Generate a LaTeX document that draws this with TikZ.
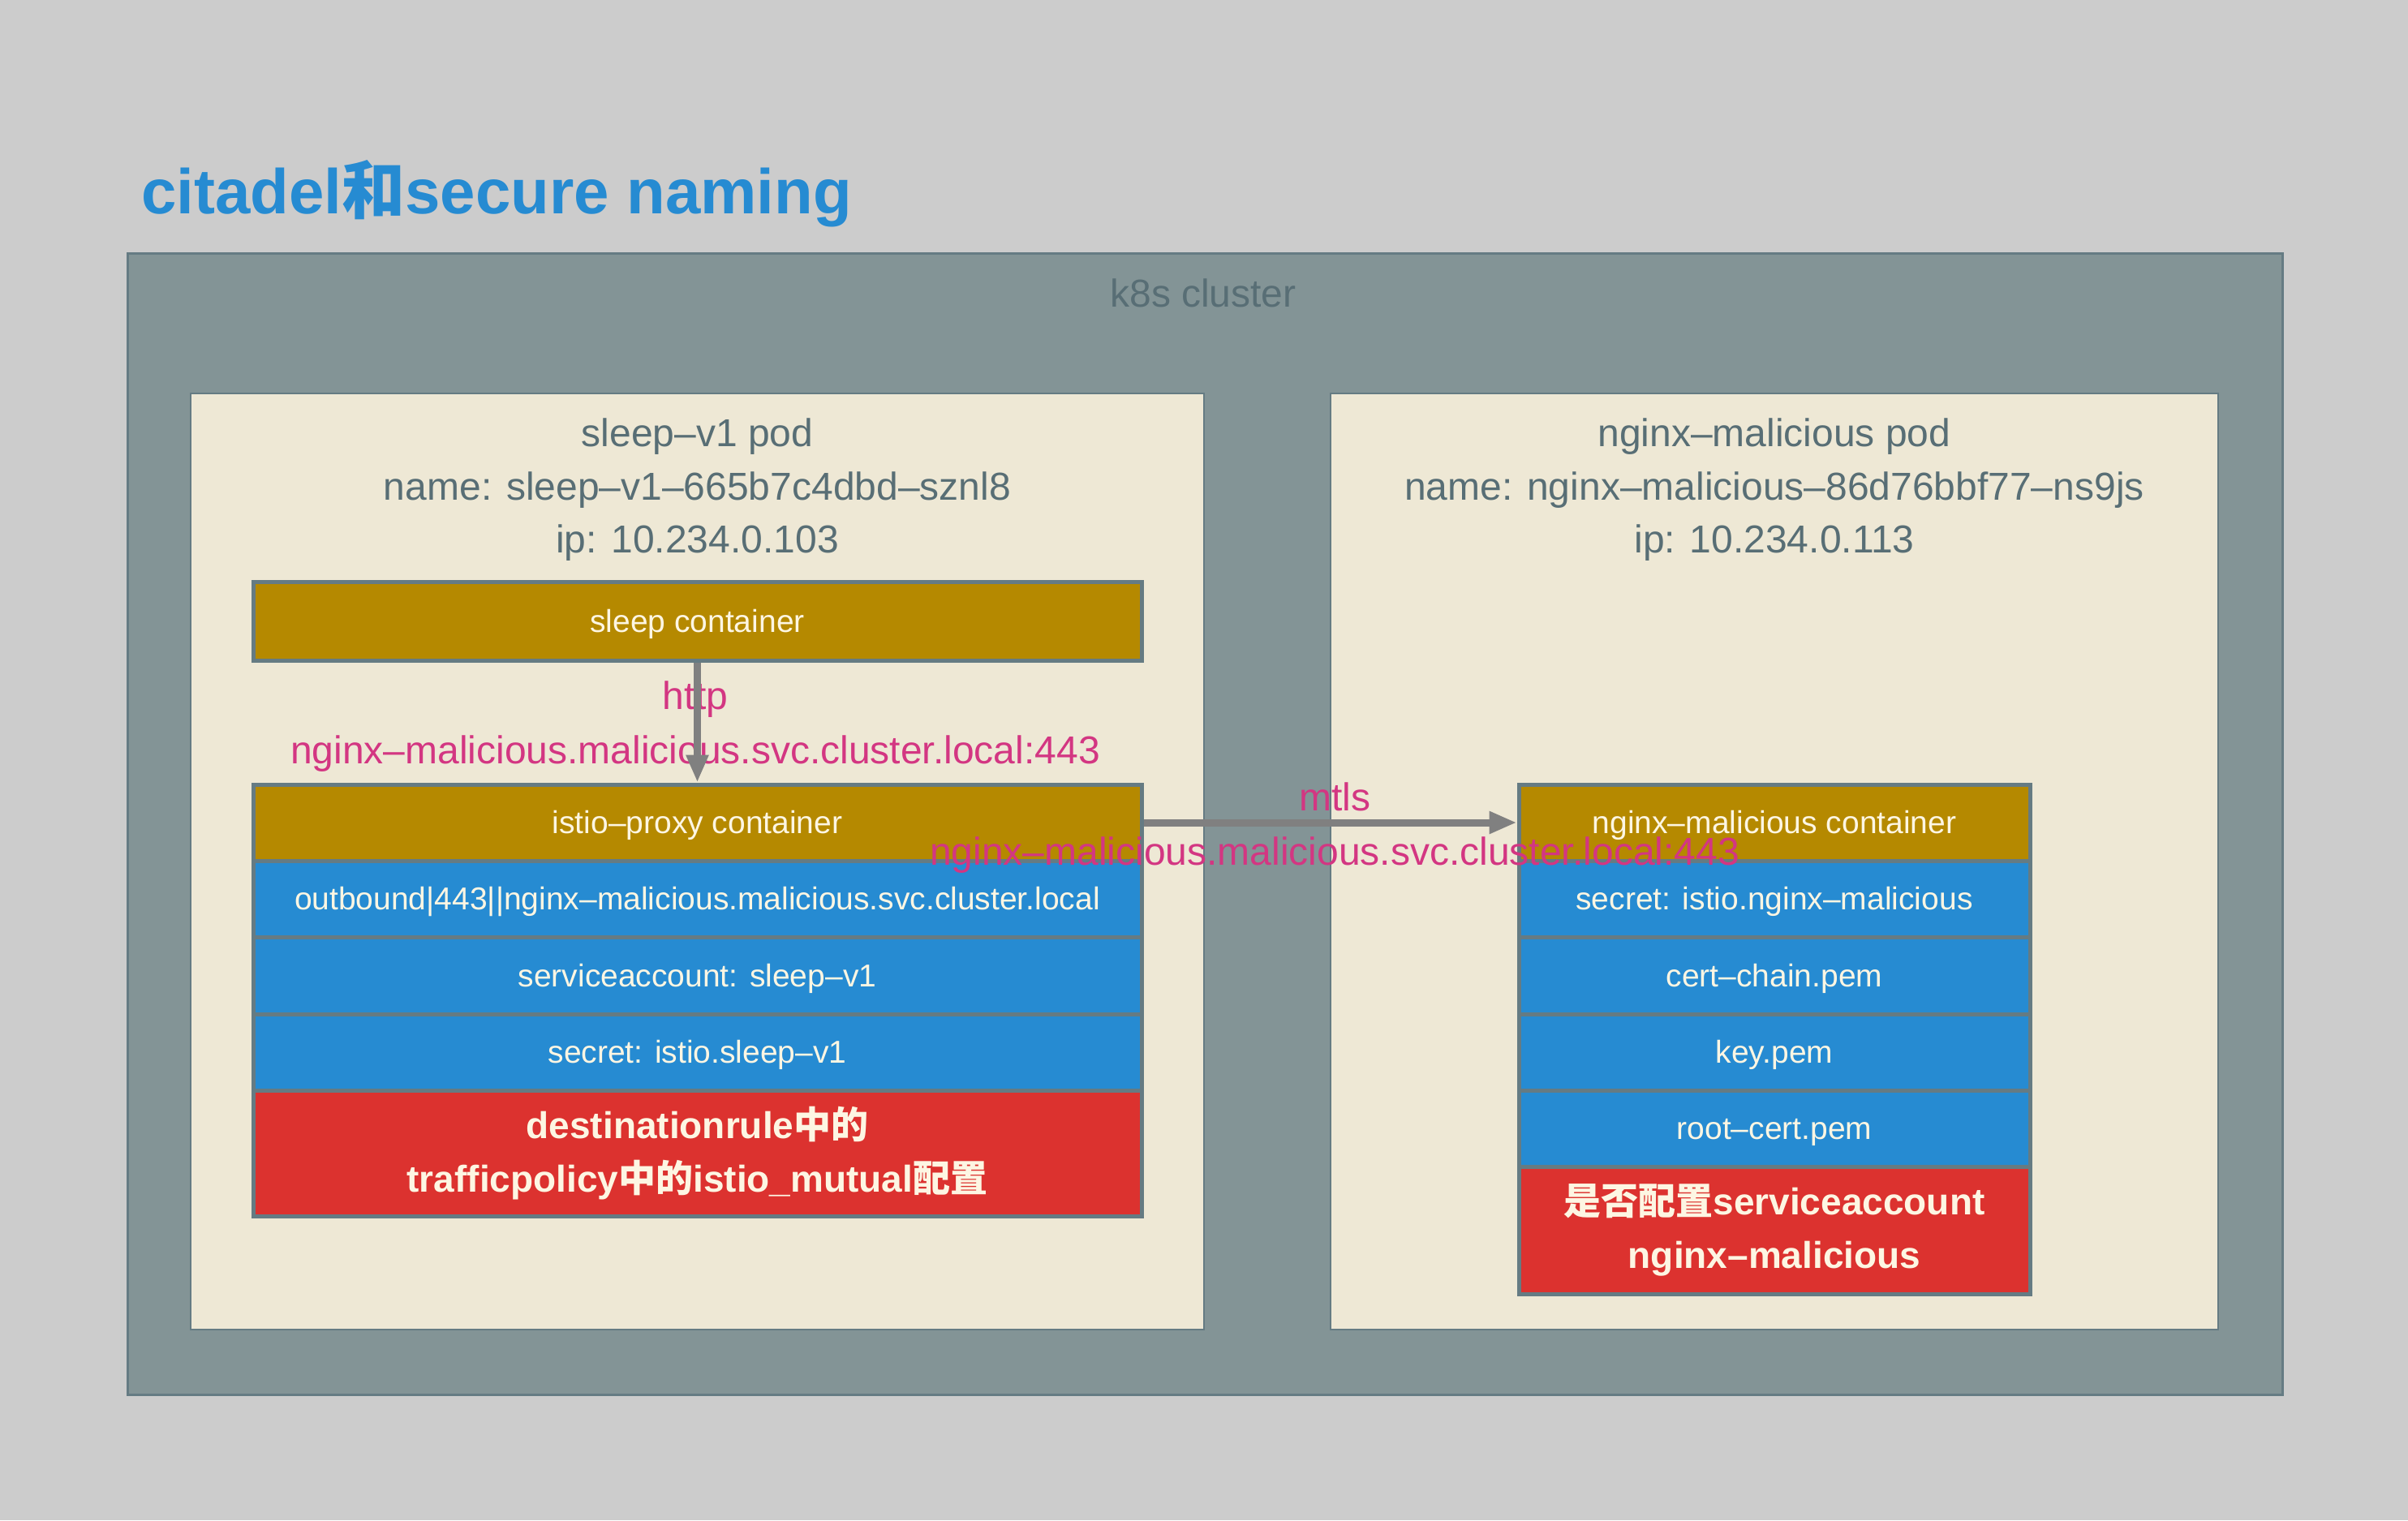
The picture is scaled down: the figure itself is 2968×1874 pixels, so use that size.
\documentclass[tikz,border=0pt]{standalone}
\usepackage{fontspec}
\setmainfont{Liberation Sans}
\newfontfamily\cjk{Noto Sans CJK SC}
\usetikzlibrary{arrows.meta}
\definecolor{bgc}{HTML}{CCCCCC}
\definecolor{sbase01}{HTML}{586E75}
\definecolor{sbase00}{HTML}{657B83}
\definecolor{sbase0}{HTML}{839496}
\definecolor{sbase2}{HTML}{EEE8D5}
\definecolor{sbase3}{HTML}{FDF6E3}
\definecolor{syellow}{HTML}{B58900}
\definecolor{sblue}{HTML}{268BD2}
\definecolor{sred}{HTML}{DC322F}
\definecolor{smagenta}{HTML}{D33682}
\definecolor{arrgray}{HTML}{808080}
\tikzset{
  clusterbox/.style={draw=sbase00, line width=3pt, fill=sbase0, inner sep=0pt,
    minimum width=2656pt, minimum height=1407pt},
  podbox/.style={draw=sbase00, line width=2pt, fill=sbase2, inner sep=0pt, minimum height=1154pt},
  podtext/.style={anchor=base, text=sbase01, inner sep=0pt, font=\fontsize{48}{58}\selectfont},
  rowbox/.style={draw=sbase00, line width=5pt, text=sbase3, inner sep=0pt,
    font=\fontsize{39}{47}\selectfont},
  lrow/.style={rowbox, minimum width=1095pt, minimum height=94pt, text height=29pt, text depth=2pt},
  rrow/.style={rowbox, minimum width=630pt, minimum height=94pt, text height=29pt, text depth=2pt},
  goldrow/.style={fill=syellow},
  bluerow/.style={fill=sblue},
  redrow/.style={fill=sred, align=center, text height=, text depth=, font=\fontsize{46}{66}\selectfont\bfseries},
  flowlabel/.style={anchor=base, text=smagenta, inner sep=0pt, font=\fontsize{48}{58}\selectfont},
  flowarrow/.style={draw=arrgray, line width=9pt, -{Triangle[length=34pt,width=26pt]}}
}
\begin{document}
\begin{tikzpicture}[x=1pt,y=-1pt]
\fill[bgc] (0,0) rectangle (2968,1874);
\useasboundingbox (0,0) rectangle (2968,1874);

% title
\node[anchor=base west, inner sep=0pt, text=sblue, font=\fontsize{78}{94}\selectfont\bfseries]
  (title) at (174,263) {citadel{\cjk 和}secure naming};

% cluster
\node[clusterbox] (cluster) at (1485,1015.5) {};
\node[podtext] (clusterlbl) at (1483,378) {k8s cluster};

% pods
\node[podbox, minimum width=1249pt] (lpod) at (859.5,1062) {};
\node[podbox, minimum width=1094pt] (rpod) at (2187,1062) {};

\node[podtext] (lpod1) at (859.5,550) {sleep–v1 pod};
\node[podtext] (lpod2) at (859.5,616) {name: sleep–v1–665b7c4dbd–sznl8};
\node[podtext] (lpod3) at (859.5,681) {ip: 10.234.0.103};

\node[podtext] (rpod1) at (2187,550) {nginx–malicious pod};
\node[podtext] (rpod2) at (2187,616) {name: nginx–malicious–86d76bbf77–ns9js};
\node[podtext] (rpod3) at (2187,681) {ip: 10.234.0.113};

% left stack
\node[lrow, goldrow, minimum height=97pt] (sleep) at (859.5,765.5) {sleep container};
\node[lrow, goldrow] (proxy) at (859.5,1014) {istio–proxy container};
\node[lrow, bluerow] (outbound) at (859.5,1108) {outbound|443||nginx–malicious.malicious.svc.cluster.local};
\node[lrow, bluerow, minimum height=95pt] (lsa) at (859.5,1202.5) {serviceaccount: sleep–v1};
\node[lrow, bluerow] (lsecret) at (859.5,1297) {secret: istio.sleep–v1};
\node[lrow, redrow, minimum height=155pt] (lred) at (859.5,1421.5)
  {destinationrule{\cjk 中的}\\trafficpolicy{\cjk 中的}istio\_mutual{\cjk 配置}};

% right stack
\node[rrow, goldrow] (ncont) at (2187,1014) {nginx–malicious container};
\node[rrow, bluerow] (rsecret) at (2187,1108) {secret: istio.nginx–malicious};
\node[rrow, bluerow, minimum height=95pt] (rcert) at (2187,1202.5) {cert–chain.pem};
\node[rrow, bluerow] (rkey) at (2187,1297) {key.pem};
\node[rrow, bluerow] (rroot) at (2187,1391) {root–cert.pem};
\node[rrow, redrow, minimum height=157pt] (rred) at (2187,1516.5)
  {{\cjk 是否配置}serviceaccount\\nginx–malicious};

% labels
\node[flowlabel] (httplbl) at (857,874) {http};
\node[flowlabel] (httphost) at (857,941) {nginx–malicious.malicious.svc.cluster.local:443};
\node[flowlabel] (mtlslbl) at (1645,999) {mtls};
\node[flowlabel] (mtlshost) at (1645,1066) {nginx–malicious.malicious.svc.cluster.local:443};

% connectors
\draw[flowarrow] (sleep.south) -- (proxy.north);
\draw[flowarrow] (proxy.east) -- (ncont.west);
\end{tikzpicture}
\end{document}
